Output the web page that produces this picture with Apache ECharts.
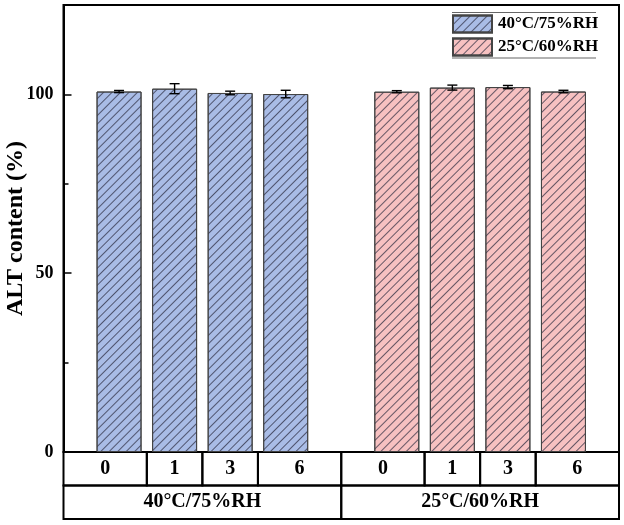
<!DOCTYPE html>
<html>
<head>
<meta charset="utf-8">
<script src="https://cdn.jsdelivr.net/npm/echarts@6/dist/echarts.min.js"></script>
<style>html,body{margin:0;padding:0;background:#fff}#c{width:624px;height:525px}</style>
</head>
<body>
<div id="c"></div>
<script>
const timepoints = ['0', '1', '3', '6'];
const groups = ['40°C/75%RH', '25°C/60%RH'];
const meanA = [100.8, 101.6, 100.4, 100.1];
const errA = [0.3, 1.4, 0.5, 1.05];
const meanB = [100.75, 101.9, 102.05, 100.8];
const errB = [0.3, 0.7, 0.45, 0.35];
const yTicks = [0, 50, 100];

const FONT = '"Liberation Serif", "Times New Roman", serif';
const groupStride = timepoints.length + 1;
const pos = (g, i) => g * groupStride + i;
const xMin = -1, xMax = groupStride * groups.length - 1;

const seriesMeans = [meanA, meanB];
const seriesErrs = [errA, errB];
const colors = ['#a9bce6', '#f7c1c1'];

function decal() {
  return { symbol: 'rect', symbolSize: 1, color: 'rgba(40,40,60,0.7)',
    dashArrayX: [1, 0], dashArrayY: [1, 4.2], rotation: -Math.PI / 4 };
}

const series = [];
groups.forEach((g, gi) => {
  series.push({
    name: g, type: 'bar', xAxisIndex: 0, yAxisIndex: 0,
    barWidth: 45, barGap: '-100%',
    data: seriesMeans[gi].map((v, i) => [pos(gi, i), v]),
    itemStyle: { color: colors[gi], borderColor: '#444', borderWidth: 1, decal: decal() },
    emphasis: { disabled: true }
  });
});
groups.forEach((g, gi) => {
  series.push({
    type: 'custom', xAxisIndex: 0, yAxisIndex: 0, z: 10,
    data: seriesMeans[gi].map((v, i) => [pos(gi, i), v, seriesErrs[gi][i]]),
    renderItem: function (params, api) {
      const x = api.value(0), m = api.value(1), e = api.value(2);
      const hi = api.coord([x, m + e]), lo = api.coord([x, m - e]);
      const w = 5;
      const st = { stroke: '#000', lineWidth: 1.4 };
      return { type: 'group', children: [
        { type: 'line', shape: { x1: hi[0], y1: hi[1], x2: lo[0], y2: lo[1] }, style: st },
        { type: 'line', shape: { x1: hi[0] - w, y1: hi[1], x2: hi[0] + w, y2: hi[1] }, style: st },
        { type: 'line', shape: { x1: lo[0] - w, y1: lo[1], x2: lo[0] + w, y2: lo[1] }, style: st }
      ]};
    }
  });
});

// table cells
const cells = [];
groups.forEach((g, gi) => {
  const gStart = pos(gi, 0) - 1, gEnd = pos(gi, timepoints.length - 1) + 1;
  timepoints.forEach((t, i) => {
    const x0 = i === 0 ? gStart : pos(gi, i) - 0.5;
    const x1 = i === timepoints.length - 1 ? gEnd : pos(gi, i) + 0.5;
    cells.push({ value: [x0, x1, 1], label: t });
  });
  cells.push({ value: [gStart, gEnd, 0], label: g });
});
series.push({
  type: 'custom', xAxisIndex: 1, yAxisIndex: 1, clip: false,
  data: cells.map(c => ({ value: c.value, name: c.label })),
  renderItem: function (params, api) {
    const x0 = api.value(0), x1 = api.value(1), r = api.value(2);
    const p0 = api.coord([x0, r + 1]), p1 = api.coord([x1, r]);
    const label = cells[params.dataIndex].label;
    return { type: 'group', children: [
      { type: 'rect', shape: { x: p0[0], y: p0[1], width: p1[0] - p0[0], height: p1[1] - p0[1] },
        style: { fill: 'none', stroke: '#000', lineWidth: 2 } },
      { type: 'text', style: { text: label, x: (p0[0] + p1[0]) / 2, y: (p0[1] + p1[1]) / 2,
        align: 'center', verticalAlign: 'middle', font: 'bold 20px ' + FONT, fill: '#000' } }
    ]};
  }
});

const chart = echarts.init(document.getElementById('c'));
chart.setOption({
  animation: false,
  textStyle: { fontFamily: FONT },
  grid: [
    { left: 63.5, right: 5, top: 5, bottom: 73, show: true, borderColor: '#000', borderWidth: 2,
      containLabel: false, outerBoundsMode: 'none' },
    { left: 63.5, right: 5, top: 452, bottom: 6, containLabel: false, outerBoundsMode: 'none' }
  ],
  legend: {
    data: groups.map(n => ({ name: n, icon: 'rect' })), orient: 'vertical', left: 452, top: 14.5, padding: 0,
    itemWidth: 39, itemHeight: 17, itemGap: 4,
    textStyle: { fontFamily: FONT, fontWeight: 'bold', fontSize: 17, color: '#000', padding: [0, 0, 0, 1] },
    selectedMode: false
  },
  graphic: [
    { type: 'line', shape: { x1: 452, y1: 12.5, x2: 596, y2: 12.5 }, style: { stroke: '#666', lineWidth: 1.2 } },
    { type: 'line', shape: { x1: 452, y1: 58, x2: 596, y2: 58 }, style: { stroke: '#666', lineWidth: 1.2 } }
  ],
  xAxis: [
    { type: 'value', gridIndex: 0, min: xMin, max: xMax, show: false },
    { type: 'value', gridIndex: 1, min: xMin, max: xMax, show: false }
  ],
  yAxis: [
    { type: 'value', gridIndex: 0, min: 0, max: 125, interval: 50,
      name: 'ALT content (%)', nameLocation: 'middle', nameGap: 36, nameMoveOverlap: false,
      nameTextStyle: { fontFamily: FONT, fontWeight: 'bold', fontSize: 24, color: '#000' },
      axisLine: { show: true, onZero: false, lineStyle: { color: '#000', width: 2 } },
      axisTick: { show: true, inside: true, length: 8, lineStyle: { color: '#000', width: 1.5 } },
      minorTick: { show: true, splitNumber: 2, length: 5, lineStyle: { color: '#000', width: 1.5 } },
      axisLabel: { showMaxLabel: false, fontFamily: FONT, fontWeight: 'bold', fontSize: 18, color: '#000', margin: 10,
        formatter: v => yTicks.includes(v) ? String(v) : '' },
      splitLine: { show: false }
    },
    { type: 'value', gridIndex: 1, min: 0, max: 2, show: false }
  ],
  series: series
});
</script>
</body>
</html>
